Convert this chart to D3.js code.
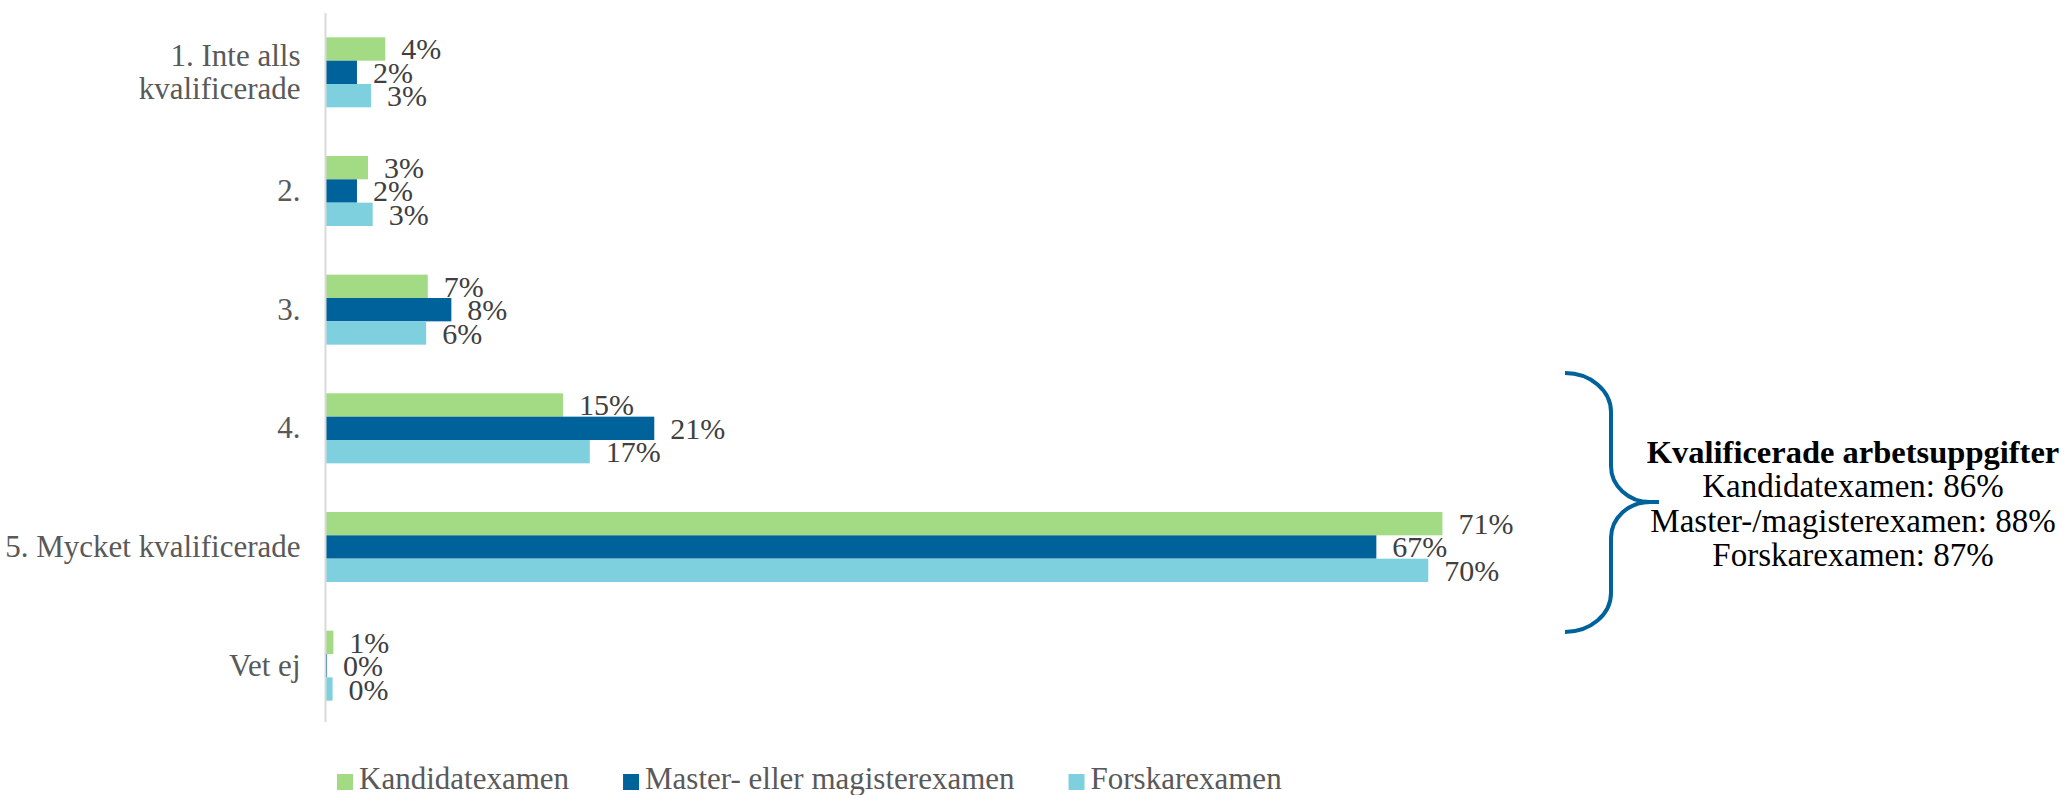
<!DOCTYPE html>
<html>
<head>
<meta charset="utf-8">
<script src="https://cdn.jsdelivr.net/npm/d3@7"></script>
<style>
  html, body { margin: 0; padding: 0; background: #fff; }
  svg { display: block; }
  text { font-family: "Liberation Serif", "Times New Roman", serif; }
</style>
</head>
<body>
<svg id="chart" width="2066" height="795"></svg>
<script>
// ---- data ----
const categories = ["1. Inte alls kvalificerade", "2.", "3.", "4.", "5. Mycket kvalificerade", "Vet ej"];
const series = ["Kandidatexamen", "Master- eller magisterexamen", "Forskarexamen"];
const kandidat = [3.8, 2.7, 6.5, 15.1, 71.0, 0.5];
const master   = [2.0, 2.0, 8.0, 20.9, 66.8, 0.1];
const forskare = [2.9, 3.0, 6.4, 16.8, 70.1, 0.45];
const seriesColors = ["#A3DA84", "#00629B", "#7ED0DE"];
const annotationTitle = "Kvalificerade arbetsuppgifter";
const annotationLines = ["Kandidatexamen: 86%", "Master-/magisterexamen: 88%", "Forskarexamen: 87%"];

const values = [kandidat, master, forskare];
const rows = categories.map((c, i) => ({ cat: c, vals: series.map((s, j) => ({ s, v: values[j][i] })) }));

const svg = d3.select("#chart");
const x = d3.scaleLinear().domain([0, 80]).range([325.5, 1584]);
const y0 = d3.scaleBand().domain(categories).range([13, 725]).paddingInner(0.41).paddingOuter(0.205);
const y1 = d3.scaleBand().domain(series).range([0, y0.bandwidth()]);
const color = d3.scaleOrdinal().domain(series).range(seriesColors);

// bars
const g = svg.append("g");
const groups = g.selectAll("g.grp").data(rows).join("g")
  .attr("class", "grp")
  .attr("transform", d => `translate(0,${y0(d.cat)})`);
groups.selectAll("rect").data(d => d.vals).join("rect")
  .attr("x", x(0))
  .attr("y", d => y1(d.s))
  .attr("width", d => x(d.v) - x(0))
  .attr("height", y1.bandwidth())
  .attr("fill", d => color(d.s));
groups.selectAll("text.val").data(d => d.vals).join("text")
  .attr("class", "val")
  .attr("x", d => x(d.v) + 16)
  .attr("y", d => y1(d.s) + y1.bandwidth() / 2)
  .attr("dy", "0.35em")
  .attr("fill", "#404040")
  .style("font-size", "30px")
  .text(d => Math.round(d.v) + "%");

// y axis
const yAxis = d3.axisLeft(y0).tickSize(0).tickPadding(25);
const ag = svg.append("g").attr("transform", `translate(${x(0)},0)`).call(yAxis);
ag.select(".domain").attr("stroke", "#d9d9d9").attr("stroke-width", 2)
  .attr("d", `M0,${y0.range()[0]}V${722}`);
const maxLabelWidth = 296.5;
ag.selectAll(".tick text")
  .attr("fill", "#595959")
  .style("font-size", "31px")
  .style("font-family", '"Liberation Serif", serif')
  .each(function () {
    const t = d3.select(this);
    const words = t.text().split(" ");
    if (this.getComputedTextLength() <= maxLabelWidth) return;
    let line1 = [], line2 = [];
    t.text(null);
    const tmp = t.append("tspan");
    for (const w of words) {
      tmp.text([...line1, w].join(" "));
      if (line2.length === 0 && tmp.node().getComputedTextLength() <= 200) line1.push(w);
      else line2.push(w);
    }
    tmp.remove();
    const lh = 33;
    t.attr("dy", null);
    t.append("tspan").attr("x", -25).attr("dy", (-lh / 2 + 10) + "px").text(line1.join(" "));
    t.append("tspan").attr("x", -25).attr("dy", lh + "px").text(line2.join(" "));
  });

// legend
const legend = svg.append("g");
let lx = 337;
series.forEach((s, i) => {
  legend.append("rect").attr("x", lx).attr("y", 774).attr("width", 16).attr("height", 16).attr("fill", color(s));
  const t = legend.append("text").attr("x", lx + 22).attr("y", 789)
    .attr("fill", "#595959").style("font-size", "31px").text(s);
  lx = lx + 22 + t.node().getComputedTextLength() + 54;
});

// brace
const bx0 = 1565, bx1 = 1611, bx2 = 1659, by0 = 373, by1 = 632, bm = 502;
const bracePath = [
  `M${bx0},${by0}`,
  `A${bx1 - bx0},39 0 0 1 ${bx1},${by0 + 39}`,
  `V${bm - 36}`,
  `A39,36 0 0 0 ${bx2 - 9},${bm}`,
  `H${bx2}`,
  `M${bx2 - 9},${bm}`,
  `A39,36 0 0 0 ${bx1},${bm + 36}`,
  `V${by1 - 39}`,
  `A${bx1 - bx0},39 0 0 1 ${bx0},${by1}`
].join(" ");
svg.append("path").attr("d", bracePath).attr("fill", "none")
  .attr("stroke", "#00629B").attr("stroke-width", 4);

// annotation
const ann = svg.append("g").attr("text-anchor", "middle");
ann.append("text").attr("x", 1853).attr("y", 463).style("font-size", "32.5px")
  .style("font-weight", "bold").attr("fill", "#000").text(annotationTitle);
annotationLines.forEach((l, i) => {
  ann.append("text").attr("x", 1853).attr("y", 497 + i * 34.5).style("font-size", "33px")
    .attr("fill", "#000").text(l);
});
</script>
</body>
</html>
